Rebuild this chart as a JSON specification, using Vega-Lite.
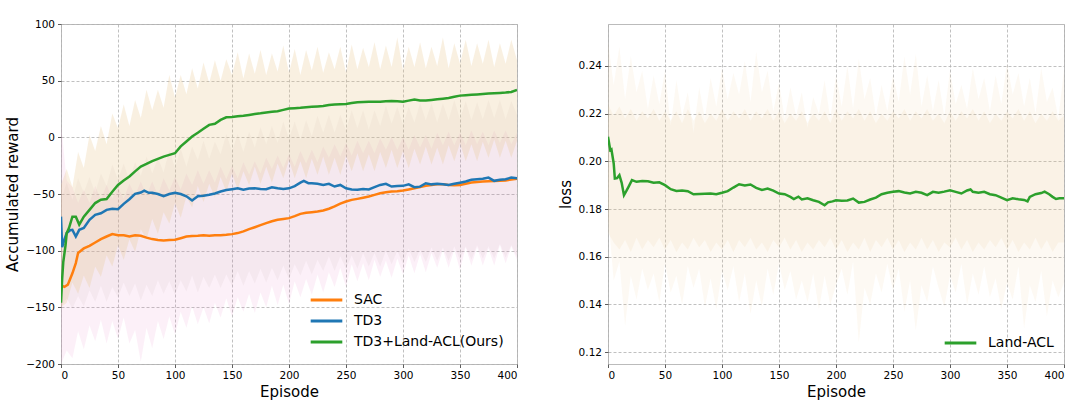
{
  "$schema": "https://vega.github.io/schema/vega-lite/v6.json",
  "padding": {"left": 5, "top": 18, "right": 5, "bottom": 5},
  "background": "white",
  "config": {
    "font": "DejaVu Sans",
    "view": {"stroke": "#bbbbbb", "strokeWidth": 1},
    "axis": {
      "domain": false,
      "grid": true,
      "gridColor": "#b0b0b0",
      "gridDash": [3, 2],
      "gridWidth": 0.8,
      "tickColor": "#333333",
      "tickSize": 3.5,
      "tickWidth": 0.8,
      "labelFont": "DejaVu Sans",
      "labelFontSize": 10.5,
      "labelColor": "#000000",
      "labelPadding": 3,
      "titleFont": "DejaVu Sans",
      "titleFontSize": 15,
      "titleFontWeight": "normal",
      "titleColor": "#000000"
    },
    "legend": {
      "orient": "none",
      "title": null,
      "labelFont": "DejaVu Sans",
      "labelFontSize": 14,
      "labelColor": "#000000",
      "symbolType": "stroke",
      "symbolStrokeWidth": 3,
      "symbolSize": 1000,
      "labelOffset": 10,
      "clipHeight": 16,
      "rowPadding": 5,
      "padding": 0
    }
  },
  "datasets": {
    "bandL": [
      {"ep":0,"thi":-42,"tlo":-150,"shi":-55,"slo":-150,"phi":12,"plo":-200},
      {"ep":5,"thi":-28,"tlo":-146,"shi":-40,"slo":-142,"phi":-38,"plo":-188},
      {"ep":10,"thi":-44,"tlo":-128,"shi":-55,"slo":-151,"phi":-44,"plo":-195},
      {"ep":15,"thi":-13,"tlo":-138,"shi":-36,"slo":-140,"phi":-58,"plo":-171},
      {"ep":20,"thi":-27,"tlo":-122,"shi":-49,"slo":-149,"phi":-46,"plo":-187},
      {"ep":25,"thi":2,"tlo":-133,"shi":-35,"slo":-135,"phi":-58,"plo":-166},
      {"ep":30,"thi":-12,"tlo":-114,"shi":-49,"slo":-145,"phi":-43,"plo":-180},
      {"ep":35,"thi":10,"tlo":-123,"shi":-32,"slo":-131,"phi":-55,"plo":-161},
      {"ep":40,"thi":-6,"tlo":-104,"shi":-43,"slo":-145,"phi":-42,"plo":-182},
      {"ep":45,"thi":21,"tlo":-114,"shi":-24,"slo":-132,"phi":-54,"plo":-162},
      {"ep":50,"thi":8,"tlo":-95,"shi":-37,"slo":-141,"phi":-44,"plo":-178},
      {"ep":55,"thi":29,"tlo":-108,"shi":-23,"slo":-128,"phi":-54,"plo":-159},
      {"ep":60,"thi":10,"tlo":-90,"shi":-38,"slo":-140,"phi":-41,"plo":-182},
      {"ep":65,"thi":33,"tlo":-101,"shi":-22,"slo":-129,"phi":-51,"plo":-170},
      {"ep":70,"thi":17,"tlo":-81,"shi":-34,"slo":-144,"phi":-39,"plo":-198},
      {"ep":75,"thi":42,"tlo":-90,"shi":-17,"slo":-130,"phi":-51,"plo":-168},
      {"ep":80,"thi":24,"tlo":-72,"shi":-32,"slo":-140,"phi":-39,"plo":-186},
      {"ep":85,"thi":42,"tlo":-85,"shi":-18,"slo":-126,"phi":-51,"plo":-162},
      {"ep":90,"thi":26,"tlo":-66,"shi":-31,"slo":-138,"phi":-36,"plo":-178},
      {"ep":95,"thi":55,"tlo":-76,"shi":-11,"slo":-127,"phi":-47,"plo":-158},
      {"ep":100,"thi":35,"tlo":-58,"shi":-27,"slo":-139,"phi":-35,"plo":-174},
      {"ep":105,"thi":55,"tlo":-71,"shi":-10,"slo":-126,"phi":-46,"plo":-154},
      {"ep":110,"thi":38,"tlo":-52,"shi":-26,"slo":-136,"phi":-32,"plo":-168},
      {"ep":115,"thi":61,"tlo":-62,"shi":-8,"slo":-122,"phi":-42,"plo":-149},
      {"ep":120,"thi":43,"tlo":-43,"shi":-20,"slo":-137,"phi":-29,"plo":-165},
      {"ep":125,"thi":66,"tlo":-57,"shi":-3,"slo":-123,"phi":-41,"plo":-150},
      {"ep":130,"thi":48,"tlo":-41,"shi":-19,"slo":-133,"phi":-29,"plo":-164},
      {"ep":135,"thi":68,"tlo":-53,"shi":-4,"slo":-121,"phi":-40,"plo":-146},
      {"ep":140,"thi":50,"tlo":-35,"shi":-15,"slo":-133,"phi":-26,"plo":-159},
      {"ep":145,"thi":69,"tlo":-48,"shi":3,"slo":-121,"phi":-37,"plo":-142},
      {"ep":150,"thi":55,"tlo":-32,"shi":-12,"slo":-131,"phi":-25,"plo":-158},
      {"ep":155,"thi":75,"tlo":-46,"shi":3,"slo":-118,"phi":-36,"plo":-141},
      {"ep":160,"thi":52,"tlo":-30,"shi":-13,"slo":-131,"phi":-22,"plo":-154},
      {"ep":165,"thi":74,"tlo":-42,"shi":5,"slo":-118,"phi":-33,"plo":-138},
      {"ep":170,"thi":56,"tlo":-26,"shi":-9,"slo":-129,"phi":-21,"plo":-155},
      {"ep":175,"thi":77,"tlo":-41,"shi":9,"slo":-116,"phi":-32,"plo":-137},
      {"ep":180,"thi":55,"tlo":-26,"shi":-6,"slo":-128,"phi":-18,"plo":-150},
      {"ep":185,"thi":74,"tlo":-40,"shi":10,"slo":-115,"phi":-28,"plo":-131},
      {"ep":190,"thi":58,"tlo":-23,"shi":-5,"slo":-126,"phi":-16,"plo":-148},
      {"ep":195,"thi":81,"tlo":-36,"shi":14,"slo":-113,"phi":-27,"plo":-130},
      {"ep":200,"thi":57,"tlo":-20,"shi":-1,"slo":-125,"phi":-15,"plo":-147},
      {"ep":205,"thi":78,"tlo":-36,"shi":14,"slo":-112,"phi":-26,"plo":-127},
      {"ep":210,"thi":55,"tlo":-21,"shi":-2,"slo":-122,"phi":-12,"plo":-141},
      {"ep":215,"thi":77,"tlo":-36,"shi":15,"slo":-109,"phi":-23,"plo":-125},
      {"ep":220,"thi":59,"tlo":-19,"shi":1,"slo":-121,"phi":-11,"plo":-139},
      {"ep":225,"thi":80,"tlo":-33,"shi":19,"slo":-108,"phi":-22,"plo":-121},
      {"ep":230,"thi":57,"tlo":-17,"shi":4,"slo":-118,"phi":-8,"plo":-137},
      {"ep":235,"thi":75,"tlo":-33,"shi":20,"slo":-105,"phi":-18,"plo":-119},
      {"ep":240,"thi":60,"tlo":-18,"shi":4,"slo":-118,"phi":-6,"plo":-132},
      {"ep":245,"thi":80,"tlo":-33,"shi":20,"slo":-105,"phi":-17,"plo":-115},
      {"ep":250,"thi":57,"tlo":-16,"shi":6,"slo":-116,"phi":-5,"plo":-132},
      {"ep":255,"thi":82,"tlo":-30,"shi":24,"slo":-104,"phi":-16,"plo":-112},
      {"ep":260,"thi":60,"tlo":-14,"shi":8,"slo":-116,"phi":-3,"plo":-127},
      {"ep":265,"thi":79,"tlo":-30,"shi":24,"slo":-102,"phi":-14,"plo":-111},
      {"ep":270,"thi":62,"tlo":-15,"shi":7,"slo":-114,"phi":-3,"plo":-126},
      {"ep":275,"thi":84,"tlo":-30,"shi":24,"slo":-102,"phi":-14,"plo":-108},
      {"ep":280,"thi":60,"tlo":-13,"shi":10,"slo":-114,"phi":-1,"plo":-123},
      {"ep":285,"thi":81,"tlo":-27,"shi":28,"slo":-100,"phi":-11,"plo":-109},
      {"ep":290,"thi":62,"tlo":-11,"shi":12,"slo":-112,"phi":0,"plo":-124},
      {"ep":295,"thi":88,"tlo":-27,"shi":27,"slo":-100,"phi":-11,"plo":-107},
      {"ep":300,"thi":59,"tlo":-12,"shi":11,"slo":-112,"phi":0,"plo":-121},
      {"ep":305,"thi":80,"tlo":-27,"shi":27,"slo":-98,"phi":-11,"plo":-104},
      {"ep":310,"thi":62,"tlo":-10,"shi":13,"slo":-110,"phi":2,"plo":-120},
      {"ep":315,"thi":84,"tlo":-24,"shi":30,"slo":-99,"phi":-9,"plo":-103},
      {"ep":320,"thi":61,"tlo":-8,"shi":15,"slo":-110,"phi":2,"plo":-119},
      {"ep":325,"thi":80,"tlo":-24,"shi":30,"slo":-97,"phi":-10,"plo":-102},
      {"ep":330,"thi":63,"tlo":-9,"shi":13,"slo":-109,"phi":4,"plo":-115},
      {"ep":335,"thi":88,"tlo":-24,"shi":30,"slo":-97,"phi":-7,"plo":-99},
      {"ep":340,"thi":61,"tlo":-7,"shi":15,"slo":-109,"phi":5,"plo":-115},
      {"ep":345,"thi":83,"tlo":-21,"shi":33,"slo":-96,"phi":-7,"plo":-99},
      {"ep":350,"thi":65,"tlo":-5,"shi":16,"slo":-108,"phi":4,"plo":-117},
      {"ep":355,"thi":86,"tlo":-21,"shi":32,"slo":-96,"phi":-7,"plo":-97},
      {"ep":360,"thi":63,"tlo":-6,"shi":15,"slo":-108,"phi":6,"plo":-113},
      {"ep":365,"thi":83,"tlo":-21,"shi":31,"slo":-95,"phi":-6,"plo":-97},
      {"ep":370,"thi":65,"tlo":-4,"shi":16,"slo":-107,"phi":5,"plo":-113},
      {"ep":375,"thi":86,"tlo":-18,"shi":33,"slo":-96,"phi":-7,"plo":-98},
      {"ep":380,"thi":62,"tlo":-2,"shi":17,"slo":-107,"phi":6,"plo":-113},
      {"ep":385,"thi":83,"tlo":-18,"shi":33,"slo":-94,"phi":-5,"plo":-95},
      {"ep":390,"thi":65,"tlo":-3,"shi":16,"slo":-106,"phi":6,"plo":-111},
      {"ep":395,"thi":86,"tlo":-18,"shi":32,"slo":-95,"phi":-6,"plo":-96},
      {"ep":400,"thi":68,"tlo":-3,"shi":20,"slo":-105,"phi":4,"plo":-108}
    ],
    "linesL": [
      {"m":"SAC","ep":0,"v":-128},{"m":"SAC","ep":1,"v":-131},{"m":"SAC","ep":3,"v":-132},{"m":"SAC","ep":6,"v":-130},{"m":"SAC","ep":8,"v":-125},{"m":"SAC","ep":10,"v":-120},{"m":"SAC","ep":13,"v":-111},{"m":"SAC","ep":15,"v":-102},{"m":"SAC","ep":20,"v":-98},{"m":"SAC","ep":25,"v":-95.7},{"m":"SAC","ep":30,"v":-92.8},{"m":"SAC","ep":35,"v":-89.8},{"m":"SAC","ep":40,"v":-87.5},{"m":"SAC","ep":45,"v":-85.4},{"m":"SAC","ep":50,"v":-86.3},{"m":"SAC","ep":55,"v":-86.5},{"m":"SAC","ep":60,"v":-87.5},{"m":"SAC","ep":65,"v":-86.5},{"m":"SAC","ep":70,"v":-86.9},{"m":"SAC","ep":75,"v":-88.5},{"m":"SAC","ep":80,"v":-89.8},{"m":"SAC","ep":85,"v":-90.5},{"m":"SAC","ep":90,"v":-91},{"m":"SAC","ep":95,"v":-90.5},{"m":"SAC","ep":100,"v":-90.4},{"m":"SAC","ep":105,"v":-89},{"m":"SAC","ep":110,"v":-87.5},{"m":"SAC","ep":115,"v":-87},{"m":"SAC","ep":120,"v":-86.9},{"m":"SAC","ep":125,"v":-86.5},{"m":"SAC","ep":130,"v":-86.9},{"m":"SAC","ep":135,"v":-86.5},{"m":"SAC","ep":140,"v":-86.3},{"m":"SAC","ep":145,"v":-86},{"m":"SAC","ep":150,"v":-85.4},{"m":"SAC","ep":155,"v":-84.5},{"m":"SAC","ep":160,"v":-83},{"m":"SAC","ep":165,"v":-81},{"m":"SAC","ep":170,"v":-79.3},{"m":"SAC","ep":175,"v":-77.5},{"m":"SAC","ep":180,"v":-75.7},{"m":"SAC","ep":185,"v":-74},{"m":"SAC","ep":190,"v":-72.8},{"m":"SAC","ep":195,"v":-72},{"m":"SAC","ep":200,"v":-71.3},{"m":"SAC","ep":205,"v":-69.5},{"m":"SAC","ep":210,"v":-67.5},{"m":"SAC","ep":215,"v":-66.5},{"m":"SAC","ep":220,"v":-66},{"m":"SAC","ep":225,"v":-65.5},{"m":"SAC","ep":230,"v":-64.6},{"m":"SAC","ep":235,"v":-63},{"m":"SAC","ep":240,"v":-61},{"m":"SAC","ep":245,"v":-58.5},{"m":"SAC","ep":250,"v":-56.6},{"m":"SAC","ep":255,"v":-55.2},{"m":"SAC","ep":260,"v":-54.3},{"m":"SAC","ep":265,"v":-53.3},{"m":"SAC","ep":270,"v":-52.2},{"m":"SAC","ep":275,"v":-50.8},{"m":"SAC","ep":280,"v":-49.3},{"m":"SAC","ep":285,"v":-48.5},{"m":"SAC","ep":290,"v":-47.8},{"m":"SAC","ep":295,"v":-47.5},{"m":"SAC","ep":300,"v":-47},{"m":"SAC","ep":305,"v":-46},{"m":"SAC","ep":310,"v":-44.9},{"m":"SAC","ep":315,"v":-43.8},{"m":"SAC","ep":320,"v":-42.8},{"m":"SAC","ep":325,"v":-42},{"m":"SAC","ep":330,"v":-41.3},{"m":"SAC","ep":335,"v":-41.5},{"m":"SAC","ep":340,"v":-42},{"m":"SAC","ep":345,"v":-42.3},{"m":"SAC","ep":350,"v":-42},{"m":"SAC","ep":355,"v":-41},{"m":"SAC","ep":360,"v":-39.9},{"m":"SAC","ep":365,"v":-39.5},{"m":"SAC","ep":370,"v":-39},{"m":"SAC","ep":375,"v":-38.8},{"m":"SAC","ep":380,"v":-38.5},{"m":"SAC","ep":385,"v":-38.3},{"m":"SAC","ep":390,"v":-38},{"m":"SAC","ep":395,"v":-37.3},{"m":"SAC","ep":400,"v":-36.6},
      {"m":"TD3","ep":0,"v":-70},{"m":"TD3","ep":1,"v":-97},{"m":"TD3","ep":3,"v":-90},{"m":"TD3","ep":5,"v":-84.5},{"m":"TD3","ep":8,"v":-82},{"m":"TD3","ep":10,"v":-81.6},{"m":"TD3","ep":13,"v":-87.5},{"m":"TD3","ep":16,"v":-81.6},{"m":"TD3","ep":20,"v":-80},{"m":"TD3","ep":25,"v":-72.8},{"m":"TD3","ep":30,"v":-68.4},{"m":"TD3","ep":35,"v":-67},{"m":"TD3","ep":40,"v":-64},{"m":"TD3","ep":45,"v":-63},{"m":"TD3","ep":50,"v":-63.4},{"m":"TD3","ep":55,"v":-58.7},{"m":"TD3","ep":60,"v":-54.6},{"m":"TD3","ep":65,"v":-49.9},{"m":"TD3","ep":70,"v":-48.7},{"m":"TD3","ep":73,"v":-47},{"m":"TD3","ep":77,"v":-49},{"m":"TD3","ep":80,"v":-49},{"m":"TD3","ep":85,"v":-50},{"m":"TD3","ep":90,"v":-52},{"m":"TD3","ep":95,"v":-50},{"m":"TD3","ep":100,"v":-49},{"m":"TD3","ep":105,"v":-50},{"m":"TD3","ep":110,"v":-52},{"m":"TD3","ep":115,"v":-55.7},{"m":"TD3","ep":120,"v":-52},{"m":"TD3","ep":125,"v":-51.5},{"m":"TD3","ep":130,"v":-50.7},{"m":"TD3","ep":135,"v":-49.5},{"m":"TD3","ep":140,"v":-47.8},{"m":"TD3","ep":145,"v":-46.5},{"m":"TD3","ep":150,"v":-45.8},{"m":"TD3","ep":155,"v":-45},{"m":"TD3","ep":160,"v":-46.3},{"m":"TD3","ep":165,"v":-45.2},{"m":"TD3","ep":170,"v":-45},{"m":"TD3","ep":175,"v":-45.5},{"m":"TD3","ep":180,"v":-45.8},{"m":"TD3","ep":185,"v":-44},{"m":"TD3","ep":190,"v":-45},{"m":"TD3","ep":195,"v":-45.5},{"m":"TD3","ep":200,"v":-45},{"m":"TD3","ep":205,"v":-43},{"m":"TD3","ep":210,"v":-40},{"m":"TD3","ep":213,"v":-38.5},{"m":"TD3","ep":217,"v":-40.5},{"m":"TD3","ep":220,"v":-40.5},{"m":"TD3","ep":225,"v":-41},{"m":"TD3","ep":230,"v":-42},{"m":"TD3","ep":235,"v":-41},{"m":"TD3","ep":240,"v":-43.4},{"m":"TD3","ep":245,"v":-42},{"m":"TD3","ep":250,"v":-44.9},{"m":"TD3","ep":255,"v":-46},{"m":"TD3","ep":260,"v":-46.3},{"m":"TD3","ep":265,"v":-45.5},{"m":"TD3","ep":270,"v":-46},{"m":"TD3","ep":275,"v":-44},{"m":"TD3","ep":280,"v":-42},{"m":"TD3","ep":285,"v":-41},{"m":"TD3","ep":290,"v":-43.4},{"m":"TD3","ep":295,"v":-43},{"m":"TD3","ep":300,"v":-42.8},{"m":"TD3","ep":305,"v":-41.5},{"m":"TD3","ep":310,"v":-44},{"m":"TD3","ep":315,"v":-43.5},{"m":"TD3","ep":320,"v":-40.5},{"m":"TD3","ep":325,"v":-41.5},{"m":"TD3","ep":330,"v":-41},{"m":"TD3","ep":335,"v":-41.5},{"m":"TD3","ep":340,"v":-42},{"m":"TD3","ep":345,"v":-41},{"m":"TD3","ep":350,"v":-40},{"m":"TD3","ep":355,"v":-39},{"m":"TD3","ep":360,"v":-37.5},{"m":"TD3","ep":365,"v":-37},{"m":"TD3","ep":370,"v":-36.6},{"m":"TD3","ep":375,"v":-35.5},{"m":"TD3","ep":380,"v":-38.4},{"m":"TD3","ep":385,"v":-37.5},{"m":"TD3","ep":390,"v":-37},{"m":"TD3","ep":395,"v":-35.5},{"m":"TD3","ep":400,"v":-36},
      {"m":"TD3+Land-ACL(Ours)","ep":0,"v":-146},{"m":"TD3+Land-ACL(Ours)","ep":1,"v":-125},{"m":"TD3+Land-ACL(Ours)","ep":2,"v":-110},{"m":"TD3+Land-ACL(Ours)","ep":4,"v":-95},{"m":"TD3+Land-ACL(Ours)","ep":5,"v":-84.5},{"m":"TD3+Land-ACL(Ours)","ep":7,"v":-80},{"m":"TD3+Land-ACL(Ours)","ep":10,"v":-70},{"m":"TD3+Land-ACL(Ours)","ep":13,"v":-70},{"m":"TD3+Land-ACL(Ours)","ep":16,"v":-77},{"m":"TD3+Land-ACL(Ours)","ep":20,"v":-70},{"m":"TD3+Land-ACL(Ours)","ep":25,"v":-64},{"m":"TD3+Land-ACL(Ours)","ep":30,"v":-58},{"m":"TD3+Land-ACL(Ours)","ep":35,"v":-55},{"m":"TD3+Land-ACL(Ours)","ep":40,"v":-54.5},{"m":"TD3+Land-ACL(Ours)","ep":45,"v":-48},{"m":"TD3+Land-ACL(Ours)","ep":50,"v":-42},{"m":"TD3+Land-ACL(Ours)","ep":55,"v":-38},{"m":"TD3+Land-ACL(Ours)","ep":60,"v":-34.6},{"m":"TD3+Land-ACL(Ours)","ep":65,"v":-30},{"m":"TD3+Land-ACL(Ours)","ep":70,"v":-25.8},{"m":"TD3+Land-ACL(Ours)","ep":75,"v":-23.5},{"m":"TD3+Land-ACL(Ours)","ep":80,"v":-21},{"m":"TD3+Land-ACL(Ours)","ep":85,"v":-19},{"m":"TD3+Land-ACL(Ours)","ep":90,"v":-17},{"m":"TD3+Land-ACL(Ours)","ep":95,"v":-15.5},{"m":"TD3+Land-ACL(Ours)","ep":100,"v":-14},{"m":"TD3+Land-ACL(Ours)","ep":105,"v":-8},{"m":"TD3+Land-ACL(Ours)","ep":110,"v":-3.7},{"m":"TD3+Land-ACL(Ours)","ep":115,"v":0.7},{"m":"TD3+Land-ACL(Ours)","ep":120,"v":4},{"m":"TD3+Land-ACL(Ours)","ep":125,"v":7.5},{"m":"TD3+Land-ACL(Ours)","ep":130,"v":11},{"m":"TD3+Land-ACL(Ours)","ep":135,"v":12},{"m":"TD3+Land-ACL(Ours)","ep":140,"v":15.4},{"m":"TD3+Land-ACL(Ours)","ep":145,"v":17.7},{"m":"TD3+Land-ACL(Ours)","ep":150,"v":18},{"m":"TD3+Land-ACL(Ours)","ep":155,"v":18.5},{"m":"TD3+Land-ACL(Ours)","ep":160,"v":19},{"m":"TD3+Land-ACL(Ours)","ep":165,"v":19.8},{"m":"TD3+Land-ACL(Ours)","ep":170,"v":20.6},{"m":"TD3+Land-ACL(Ours)","ep":175,"v":21.2},{"m":"TD3+Land-ACL(Ours)","ep":180,"v":22},{"m":"TD3+Land-ACL(Ours)","ep":185,"v":22.5},{"m":"TD3+Land-ACL(Ours)","ep":190,"v":23},{"m":"TD3+Land-ACL(Ours)","ep":195,"v":24.2},{"m":"TD3+Land-ACL(Ours)","ep":200,"v":25.4},{"m":"TD3+Land-ACL(Ours)","ep":205,"v":25.7},{"m":"TD3+Land-ACL(Ours)","ep":210,"v":26},{"m":"TD3+Land-ACL(Ours)","ep":215,"v":26.5},{"m":"TD3+Land-ACL(Ours)","ep":220,"v":27},{"m":"TD3+Land-ACL(Ours)","ep":225,"v":27.3},{"m":"TD3+Land-ACL(Ours)","ep":230,"v":27.7},{"m":"TD3+Land-ACL(Ours)","ep":235,"v":28.5},{"m":"TD3+Land-ACL(Ours)","ep":240,"v":29},{"m":"TD3+Land-ACL(Ours)","ep":245,"v":29.2},{"m":"TD3+Land-ACL(Ours)","ep":250,"v":29.5},{"m":"TD3+Land-ACL(Ours)","ep":255,"v":30.3},{"m":"TD3+Land-ACL(Ours)","ep":260,"v":31},{"m":"TD3+Land-ACL(Ours)","ep":265,"v":31.2},{"m":"TD3+Land-ACL(Ours)","ep":270,"v":31.5},{"m":"TD3+Land-ACL(Ours)","ep":275,"v":31.5},{"m":"TD3+Land-ACL(Ours)","ep":280,"v":31.5},{"m":"TD3+Land-ACL(Ours)","ep":285,"v":31.8},{"m":"TD3+Land-ACL(Ours)","ep":290,"v":32},{"m":"TD3+Land-ACL(Ours)","ep":295,"v":31.8},{"m":"TD3+Land-ACL(Ours)","ep":300,"v":31.5},{"m":"TD3+Land-ACL(Ours)","ep":305,"v":32.4},{"m":"TD3+Land-ACL(Ours)","ep":310,"v":33.3},{"m":"TD3+Land-ACL(Ours)","ep":315,"v":32.5},{"m":"TD3+Land-ACL(Ours)","ep":320,"v":32.4},{"m":"TD3+Land-ACL(Ours)","ep":325,"v":33},{"m":"TD3+Land-ACL(Ours)","ep":330,"v":33.5},{"m":"TD3+Land-ACL(Ours)","ep":335,"v":34.1},{"m":"TD3+Land-ACL(Ours)","ep":340,"v":34.8},{"m":"TD3+Land-ACL(Ours)","ep":345,"v":35.8},{"m":"TD3+Land-ACL(Ours)","ep":350,"v":36.8},{"m":"TD3+Land-ACL(Ours)","ep":355,"v":37.2},{"m":"TD3+Land-ACL(Ours)","ep":360,"v":37.5},{"m":"TD3+Land-ACL(Ours)","ep":365,"v":37.9},{"m":"TD3+Land-ACL(Ours)","ep":370,"v":38.3},{"m":"TD3+Land-ACL(Ours)","ep":375,"v":38.7},{"m":"TD3+Land-ACL(Ours)","ep":380,"v":39},{"m":"TD3+Land-ACL(Ours)","ep":385,"v":39.2},{"m":"TD3+Land-ACL(Ours)","ep":390,"v":39.5},{"m":"TD3+Land-ACL(Ours)","ep":395,"v":40},{"m":"TD3+Land-ACL(Ours)","ep":400,"v":41.8}
    ],
    "bandR": [
      {"ep":0,"ohi":0.25,"olo":0.178,"ihi":0.224,"ilo":0.17},
      {"ep":5,"ohi":0.232,"olo":0.15,"ihi":0.219,"ilo":0.166},
      {"ep":10,"ohi":0.248,"olo":0.158,"ihi":0.223,"ilo":0.163},
      {"ep":15,"ohi":0.226,"olo":0.131,"ihi":0.218,"ilo":0.167},
      {"ep":20,"ohi":0.244,"olo":0.152,"ihi":0.222,"ilo":0.162},
      {"ep":25,"ohi":0.229,"olo":0.142,"ihi":0.217,"ilo":0.168},
      {"ep":30,"ohi":0.238,"olo":0.155,"ihi":0.221,"ilo":0.163},
      {"ep":35,"ohi":0.222,"olo":0.146,"ihi":0.218,"ilo":0.167},
      {"ep":40,"ohi":0.236,"olo":0.153,"ihi":0.222,"ilo":0.164},
      {"ep":45,"ohi":0.224,"olo":0.141,"ihi":0.217,"ilo":0.168},
      {"ep":50,"ohi":0.238,"olo":0.157,"ihi":0.221,"ilo":0.163},
      {"ep":55,"ohi":0.215,"olo":0.145,"ihi":0.217,"ilo":0.167},
      {"ep":60,"ohi":0.234,"olo":0.152,"ihi":0.221,"ilo":0.162},
      {"ep":65,"ohi":0.219,"olo":0.14,"ihi":0.216,"ilo":0.166},
      {"ep":70,"ohi":0.229,"olo":0.156,"ihi":0.222,"ilo":0.163},
      {"ep":75,"ohi":0.212,"olo":0.147,"ihi":0.217,"ilo":0.168},
      {"ep":80,"ohi":0.231,"olo":0.155,"ihi":0.221,"ilo":0.164},
      {"ep":85,"ohi":0.218,"olo":0.139,"ihi":0.216,"ilo":0.167},
      {"ep":90,"ohi":0.235,"olo":0.151,"ihi":0.22,"ilo":0.162},
      {"ep":95,"ohi":0.223,"olo":0.138,"ihi":0.217,"ilo":0.166},
      {"ep":100,"ohi":0.239,"olo":0.154,"ihi":0.222,"ilo":0.163},
      {"ep":105,"ohi":0.226,"olo":0.146,"ihi":0.217,"ilo":0.167},
      {"ep":110,"ohi":0.237,"olo":0.156,"ihi":0.221,"ilo":0.162},
      {"ep":115,"ohi":0.228,"olo":0.141,"ihi":0.218,"ilo":0.167},
      {"ep":120,"ohi":0.242,"olo":0.153,"ihi":0.222,"ilo":0.164},
      {"ep":125,"ohi":0.225,"olo":0.136,"ihi":0.217,"ilo":0.168},
      {"ep":130,"ohi":0.246,"olo":0.15,"ihi":0.221,"ilo":0.163},
      {"ep":135,"ohi":0.229,"olo":0.139,"ihi":0.218,"ilo":0.166},
      {"ep":140,"ohi":0.238,"olo":0.155,"ihi":0.222,"ilo":0.162},
      {"ep":145,"ohi":0.221,"olo":0.144,"ihi":0.217,"ilo":0.167},
      {"ep":150,"ohi":0.233,"olo":0.157,"ihi":0.221,"ilo":0.164},
      {"ep":155,"ohi":0.218,"olo":0.146,"ihi":0.216,"ilo":0.168},
      {"ep":160,"ohi":0.231,"olo":0.154,"ihi":0.22,"ilo":0.163},
      {"ep":165,"ohi":0.219,"olo":0.142,"ihi":0.217,"ilo":0.167},
      {"ep":170,"ohi":0.229,"olo":0.15,"ihi":0.221,"ilo":0.162},
      {"ep":175,"ohi":0.214,"olo":0.141,"ihi":0.216,"ilo":0.166},
      {"ep":180,"ohi":0.227,"olo":0.153,"ihi":0.22,"ilo":0.163},
      {"ep":185,"ohi":0.22,"olo":0.138,"ihi":0.217,"ilo":0.167},
      {"ep":190,"ohi":0.234,"olo":0.152,"ihi":0.221,"ilo":0.164},
      {"ep":195,"ohi":0.218,"olo":0.14,"ihi":0.216,"ilo":0.168},
      {"ep":200,"ohi":0.236,"olo":0.148,"ihi":0.222,"ilo":0.163},
      {"ep":205,"ohi":0.223,"olo":0.155,"ihi":0.217,"ilo":0.167},
      {"ep":210,"ohi":0.24,"olo":0.144,"ihi":0.221,"ilo":0.162},
      {"ep":215,"ohi":0.222,"olo":0.158,"ihi":0.218,"ilo":0.166},
      {"ep":220,"ohi":0.243,"olo":0.124,"ihi":0.222,"ilo":0.163},
      {"ep":225,"ohi":0.226,"olo":0.147,"ihi":0.217,"ilo":0.168},
      {"ep":230,"ohi":0.235,"olo":0.14,"ihi":0.221,"ilo":0.162},
      {"ep":235,"ohi":0.219,"olo":0.153,"ihi":0.216,"ilo":0.167},
      {"ep":240,"ohi":0.232,"olo":0.145,"ihi":0.22,"ilo":0.164},
      {"ep":245,"ohi":0.221,"olo":0.157,"ihi":0.217,"ilo":0.168},
      {"ep":250,"ohi":0.236,"olo":0.146,"ihi":0.221,"ilo":0.163},
      {"ep":255,"ohi":0.225,"olo":0.155,"ihi":0.218,"ilo":0.167},
      {"ep":260,"ohi":0.244,"olo":0.137,"ihi":0.222,"ilo":0.162},
      {"ep":265,"ohi":0.228,"olo":0.15,"ihi":0.217,"ilo":0.166},
      {"ep":270,"ohi":0.245,"olo":0.129,"ihi":0.221,"ilo":0.163},
      {"ep":275,"ohi":0.223,"olo":0.148,"ihi":0.218,"ilo":0.168},
      {"ep":280,"ohi":0.236,"olo":0.141,"ihi":0.222,"ilo":0.163},
      {"ep":285,"ohi":0.221,"olo":0.156,"ihi":0.217,"ilo":0.167},
      {"ep":290,"ohi":0.234,"olo":0.147,"ihi":0.22,"ilo":0.162},
      {"ep":295,"ohi":0.219,"olo":0.139,"ihi":0.216,"ilo":0.166},
      {"ep":300,"ohi":0.238,"olo":0.152,"ihi":0.221,"ilo":0.164},
      {"ep":305,"ohi":0.224,"olo":0.145,"ihi":0.217,"ilo":0.168},
      {"ep":310,"ohi":0.232,"olo":0.157,"ihi":0.221,"ilo":0.163},
      {"ep":315,"ohi":0.222,"olo":0.14,"ihi":0.218,"ilo":0.167},
      {"ep":320,"ohi":0.239,"olo":0.153,"ihi":0.222,"ilo":0.162},
      {"ep":325,"ohi":0.226,"olo":0.144,"ihi":0.217,"ilo":0.166},
      {"ep":330,"ohi":0.235,"olo":0.156,"ihi":0.221,"ilo":0.163},
      {"ep":335,"ohi":0.221,"olo":0.143,"ihi":0.216,"ilo":0.167},
      {"ep":340,"ohi":0.236,"olo":0.151,"ihi":0.22,"ilo":0.164},
      {"ep":345,"ohi":0.224,"olo":0.138,"ihi":0.217,"ilo":0.168},
      {"ep":350,"ohi":0.241,"olo":0.149,"ihi":0.221,"ilo":0.163},
      {"ep":355,"ohi":0.228,"olo":0.142,"ihi":0.218,"ilo":0.167},
      {"ep":360,"ohi":0.237,"olo":0.156,"ihi":0.222,"ilo":0.162},
      {"ep":365,"ohi":0.223,"olo":0.13,"ihi":0.217,"ilo":0.166},
      {"ep":370,"ohi":0.235,"olo":0.148,"ihi":0.221,"ilo":0.163},
      {"ep":375,"ohi":0.22,"olo":0.141,"ihi":0.216,"ilo":0.168},
      {"ep":380,"ohi":0.239,"olo":0.154,"ihi":0.22,"ilo":0.163},
      {"ep":385,"ohi":0.225,"olo":0.135,"ihi":0.217,"ilo":0.167},
      {"ep":390,"ohi":0.231,"olo":0.15,"ihi":0.221,"ilo":0.162},
      {"ep":395,"ohi":0.218,"olo":0.143,"ihi":0.217,"ilo":0.166},
      {"ep":400,"ohi":0.238,"olo":0.149,"ihi":0.219,"ilo":0.166}
    ],
    "lineR": [
      {"m":"Land-ACL","ep":0,"v":0.2103},{"m":"Land-ACL","ep":2,"v":0.2047},{"m":"Land-ACL","ep":3,"v":0.205},{"m":"Land-ACL","ep":5,"v":0.1991},{"m":"Land-ACL","ep":6,"v":0.1928},{"m":"Land-ACL","ep":8,"v":0.193},{"m":"Land-ACL","ep":10,"v":0.1942},{"m":"Land-ACL","ep":12,"v":0.191},{"m":"Land-ACL","ep":14,"v":0.1858},{"m":"Land-ACL","ep":16,"v":0.1875},{"m":"Land-ACL","ep":18,"v":0.1893},{"m":"Land-ACL","ep":21,"v":0.1921},{"m":"Land-ACL","ep":25,"v":0.1914},{"m":"Land-ACL","ep":30,"v":0.1917},{"m":"Land-ACL","ep":35,"v":0.1916},{"m":"Land-ACL","ep":40,"v":0.191},{"m":"Land-ACL","ep":45,"v":0.1912},{"m":"Land-ACL","ep":50,"v":0.19},{"m":"Land-ACL","ep":55,"v":0.1883},{"m":"Land-ACL","ep":60,"v":0.1876},{"m":"Land-ACL","ep":65,"v":0.1878},{"m":"Land-ACL","ep":70,"v":0.1875},{"m":"Land-ACL","ep":75,"v":0.1862},{"m":"Land-ACL","ep":80,"v":0.1863},{"m":"Land-ACL","ep":90,"v":0.1865},{"m":"Land-ACL","ep":95,"v":0.1862},{"m":"Land-ACL","ep":100,"v":0.1868},{"m":"Land-ACL","ep":105,"v":0.1875},{"m":"Land-ACL","ep":110,"v":0.189},{"m":"Land-ACL","ep":115,"v":0.1904},{"m":"Land-ACL","ep":120,"v":0.1899},{"m":"Land-ACL","ep":125,"v":0.1903},{"m":"Land-ACL","ep":130,"v":0.1889},{"m":"Land-ACL","ep":135,"v":0.188},{"m":"Land-ACL","ep":140,"v":0.1886},{"m":"Land-ACL","ep":145,"v":0.1877},{"m":"Land-ACL","ep":150,"v":0.1865},{"m":"Land-ACL","ep":155,"v":0.1862},{"m":"Land-ACL","ep":160,"v":0.1851},{"m":"Land-ACL","ep":163,"v":0.1842},{"m":"Land-ACL","ep":167,"v":0.1852},{"m":"Land-ACL","ep":170,"v":0.184},{"m":"Land-ACL","ep":175,"v":0.1845},{"m":"Land-ACL","ep":180,"v":0.1837},{"m":"Land-ACL","ep":185,"v":0.183},{"m":"Land-ACL","ep":190,"v":0.1816},{"m":"Land-ACL","ep":193,"v":0.1828},{"m":"Land-ACL","ep":197,"v":0.1832},{"m":"Land-ACL","ep":200,"v":0.1837},{"m":"Land-ACL","ep":205,"v":0.1835},{"m":"Land-ACL","ep":210,"v":0.1836},{"m":"Land-ACL","ep":215,"v":0.1844},{"m":"Land-ACL","ep":220,"v":0.1827},{"m":"Land-ACL","ep":225,"v":0.183},{"m":"Land-ACL","ep":230,"v":0.184},{"m":"Land-ACL","ep":235,"v":0.1848},{"m":"Land-ACL","ep":240,"v":0.1862},{"m":"Land-ACL","ep":245,"v":0.1868},{"m":"Land-ACL","ep":250,"v":0.1872},{"m":"Land-ACL","ep":255,"v":0.1875},{"m":"Land-ACL","ep":260,"v":0.1869},{"m":"Land-ACL","ep":265,"v":0.1865},{"m":"Land-ACL","ep":270,"v":0.1872},{"m":"Land-ACL","ep":275,"v":0.1868},{"m":"Land-ACL","ep":280,"v":0.1858},{"m":"Land-ACL","ep":285,"v":0.1872},{"m":"Land-ACL","ep":290,"v":0.1868},{"m":"Land-ACL","ep":295,"v":0.1873},{"m":"Land-ACL","ep":300,"v":0.1879},{"m":"Land-ACL","ep":305,"v":0.1872},{"m":"Land-ACL","ep":310,"v":0.1865},{"m":"Land-ACL","ep":315,"v":0.1878},{"m":"Land-ACL","ep":318,"v":0.1882},{"m":"Land-ACL","ep":320,"v":0.1872},{"m":"Land-ACL","ep":325,"v":0.1868},{"m":"Land-ACL","ep":330,"v":0.1872},{"m":"Land-ACL","ep":335,"v":0.1862},{"m":"Land-ACL","ep":340,"v":0.1858},{"m":"Land-ACL","ep":345,"v":0.1848},{"m":"Land-ACL","ep":350,"v":0.1837},{"m":"Land-ACL","ep":355,"v":0.1845},{"m":"Land-ACL","ep":360,"v":0.1841},{"m":"Land-ACL","ep":365,"v":0.1838},{"m":"Land-ACL","ep":368,"v":0.1832},{"m":"Land-ACL","ep":370,"v":0.1851},{"m":"Land-ACL","ep":375,"v":0.1862},{"m":"Land-ACL","ep":380,"v":0.1867},{"m":"Land-ACL","ep":383,"v":0.1873},{"m":"Land-ACL","ep":387,"v":0.1862},{"m":"Land-ACL","ep":390,"v":0.1851},{"m":"Land-ACL","ep":393,"v":0.1842},{"m":"Land-ACL","ep":396,"v":0.1845},{"m":"Land-ACL","ep":400,"v":0.1845}
    ]
  },
  "hconcat": [
    {
      "width": 456,
      "height": 340,
      "layer": [
        {
          "data": {"name": "bandL"},
          "mark": {"type": "area", "color": "#e377c2", "opacity": 0.11, "clip": true},
          "encoding": {
            "x": {"field": "ep", "type": "quantitative", "scale": {"domain": [0, 400], "nice": false}, "axis": {"values": [0,50,100,150,200,250,300,350,400], "title": "Episode", "titlePadding": 3}},
            "y": {"field": "plo", "type": "quantitative", "scale": {"domain": [-200, 100], "nice": false}, "axis": {"values": [-200,-150,-100,-50,0,50,100], "title": "Accumulated reward", "titlePadding": 5, "labelExpr": "replace(datum.label, '-', '−')"}},
            "y2": {"field": "phi"}
          }
        },
        {
          "data": {"name": "bandL"},
          "mark": {"type": "area", "color": "#a08c8c", "opacity": 0.08, "clip": true},
          "encoding": {
            "x": {"field": "ep", "type": "quantitative"},
            "y": {"field": "slo", "type": "quantitative"},
            "y2": {"field": "shi"}
          }
        },
        {
          "data": {"name": "bandL"},
          "mark": {"type": "area", "color": "#e9c48a", "opacity": 0.26, "clip": true},
          "encoding": {
            "x": {"field": "ep", "type": "quantitative"},
            "y": {"field": "tlo", "type": "quantitative"},
            "y2": {"field": "thi"}
          }
        },
        {
          "data": {"name": "linesL"},
          "mark": {"type": "line", "strokeWidth": 2.5, "clip": true},
          "encoding": {
            "x": {"field": "ep", "type": "quantitative"},
            "y": {"field": "v", "type": "quantitative"},
            "color": {
              "field": "m", "type": "nominal",
              "scale": {"domain": ["SAC", "TD3", "TD3+Land-ACL(Ours)"], "range": ["#ff7f0e", "#1f77b4", "#2ca02c"]},
              "legend": {"legendX": 248, "legendY": 268}
            }
          }
        }
      ]
    },
    {
      "width": 456,
      "height": 340,
      "layer": [
        {
          "data": {"name": "bandR"},
          "mark": {"type": "area", "color": "#e9c48a", "opacity": 0.1, "clip": true},
          "encoding": {
            "x": {"field": "ep", "type": "quantitative", "scale": {"domain": [0, 400], "nice": false}, "axis": {"values": [0,50,100,150,200,250,300,350,400], "title": "Episode", "titlePadding": 3}},
            "y": {"field": "olo", "type": "quantitative", "scale": {"domain": [0.115, 0.2576], "nice": false, "zero": false}, "axis": {"values": [0.12,0.14,0.16,0.18,0.2,0.22,0.24], "format": ".2f", "title": "loss", "titlePadding": 5}},
            "y2": {"field": "ohi"}
          }
        },
        {
          "data": {"name": "bandR"},
          "mark": {"type": "area", "color": "#e9c48a", "opacity": 0.12, "clip": true},
          "encoding": {
            "x": {"field": "ep", "type": "quantitative"},
            "y": {"field": "ilo", "type": "quantitative"},
            "y2": {"field": "ihi"}
          }
        },
        {
          "data": {"name": "lineR"},
          "mark": {"type": "line", "strokeWidth": 2.5, "clip": true},
          "encoding": {
            "x": {"field": "ep", "type": "quantitative"},
            "y": {"field": "v", "type": "quantitative"},
            "color": {
              "field": "m", "type": "nominal",
              "scale": {"domain": ["Land-ACL"], "range": ["#2ca02c"]},
              "legend": {"legendX": 335, "legendY": 311}
            }
          }
        }
      ]
    }
  ],
  "spacing": 91,
  "bounds": "flush",
  "resolve": {"scale": {"x": "independent", "y": "independent", "color": "independent"}, "legend": {"color": "independent"}}
}
